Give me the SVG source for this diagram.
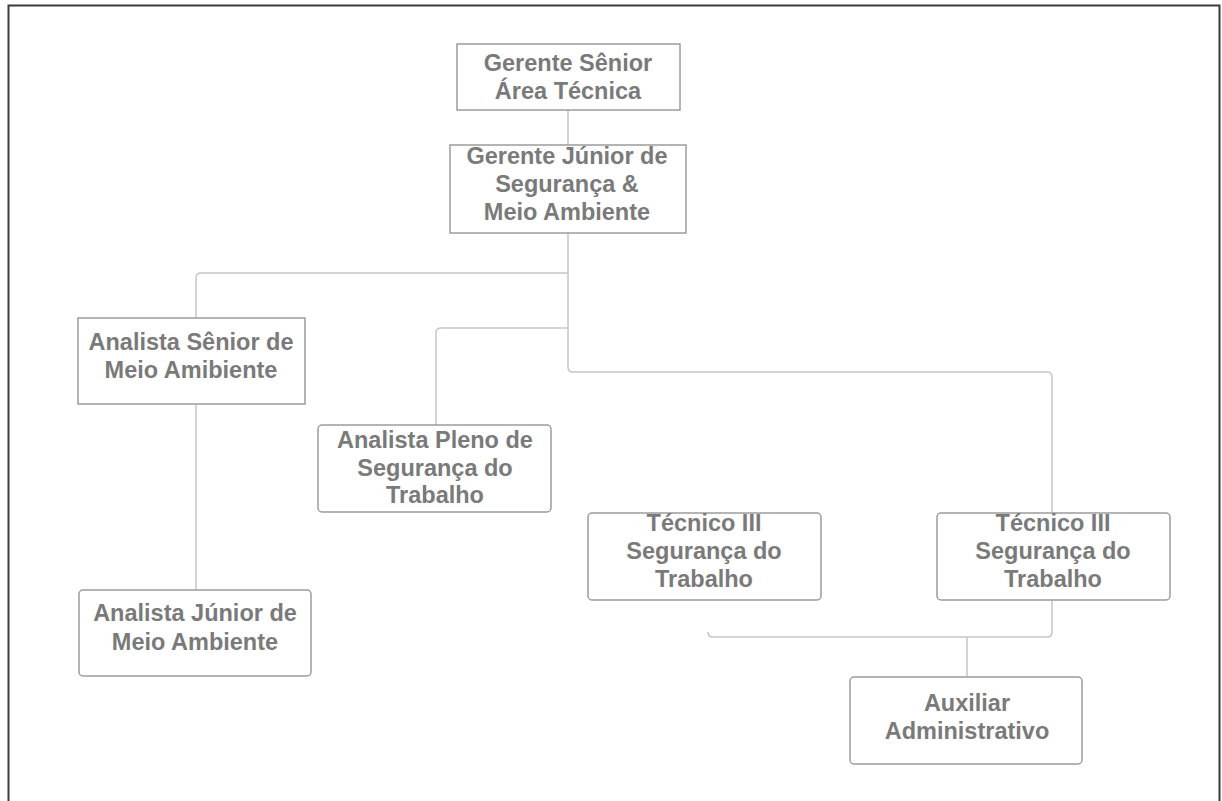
<svg xmlns="http://www.w3.org/2000/svg" width="1222" height="801" viewBox="0 0 1222 801">
<style>
.frame{fill:none;stroke:#3a3a3a;stroke-width:2}
.box{fill:#ffffff;stroke:#9c9c9c;stroke-width:1.5}
.conn{fill:none;stroke:#c6c6c6;stroke-width:1.5}
.t{font-family:"Liberation Sans",Arial,sans-serif;font-weight:bold;font-size:23.5px;fill:#7a7a7a;text-anchor:middle}
</style>
<rect x="0" y="0" width="1222" height="801" fill="#ffffff"/>
<path class="frame" d="M8.5,801 V5.5 H1219.5 V801"/>
<g id="connectors">
<path class="conn" d="M568,110 V145"/>
<path class="conn" d="M568,233 V367 Q568,372 573,372 H1047 Q1052,372 1052,377 V632 Q1052,637 1047,637 H713 Q708,637 708,632"/>
<path class="conn" d="M568,273 H201 Q196,273 196,278 V318"/>
<path class="conn" d="M568,328 H441 Q436,328 436,333 V425"/>
<path class="conn" d="M196,404 V590"/>
<path class="conn" d="M967,637 V677"/>
</g>
<g id="n-gerente-senior">
<rect class="box" x="457" y="44" width="223" height="66"/>
<text class="t" x="568" y="71">Gerente Sênior</text>
<text class="t" x="568" y="99">Área Técnica</text>
</g>
<g id="n-gerente-junior">
<rect class="box" x="450" y="145" width="236" height="88"/>
<text class="t" x="567" y="164">Gerente Júnior de</text>
<text class="t" x="567" y="192">Segurança &amp;</text>
<text class="t" x="567" y="220">Meio Ambiente</text>
</g>
<g id="n-analista-senior">
<rect class="box" x="78" y="318" width="227" height="86"/>
<text class="t" x="191" y="350">Analista Sênior de</text>
<text class="t" x="191" y="378">Meio Amibiente</text>
</g>
<g id="n-analista-pleno">
<rect class="box" x="318" y="425" width="233" height="87" rx="4"/>
<text class="t" x="435" y="448">Analista Pleno de</text>
<text class="t" x="435" y="476">Segurança do</text>
<text class="t" x="435" y="503">Trabalho</text>
</g>
<g id="n-analista-junior">
<rect class="box" x="79" y="590" width="232" height="86" rx="4"/>
<text class="t" x="195" y="621">Analista Júnior de</text>
<text class="t" x="195" y="650">Meio Ambiente</text>
</g>
<g id="n-tecnico-1">
<rect class="box" x="588" y="513" width="233" height="87" rx="4"/>
<text class="t" x="704" y="531">Técnico III</text>
<text class="t" x="704" y="559">Segurança do</text>
<text class="t" x="704" y="587">Trabalho</text>
</g>
<g id="n-tecnico-2">
<rect class="box" x="937" y="513" width="233" height="87" rx="4"/>
<text class="t" x="1053" y="531">Técnico III</text>
<text class="t" x="1053" y="559">Segurança do</text>
<text class="t" x="1053" y="587">Trabalho</text>
</g>
<g id="n-auxiliar">
<rect class="box" x="850" y="677" width="232" height="87" rx="4"/>
<text class="t" x="967" y="711">Auxiliar</text>
<text class="t" x="967" y="739">Administrativo</text>
</g>
</svg>
